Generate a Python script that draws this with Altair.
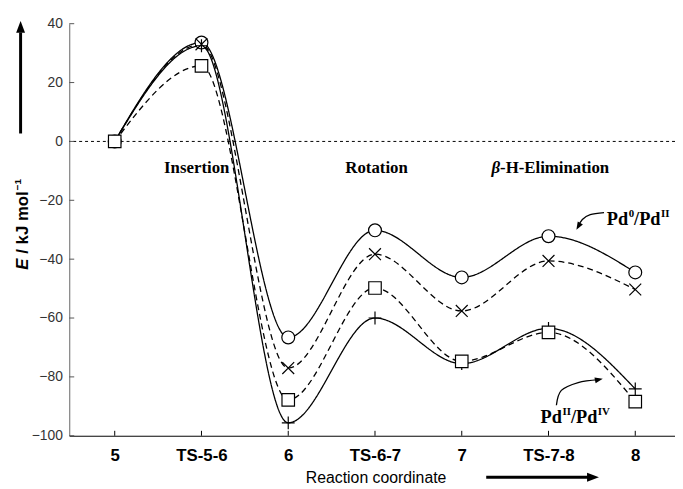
import json
import altair as alt
import pandas as pd

# ---------------- data ----------------
stages = ["5", "TS-5-6", "6", "TS-6-7", "7", "TS-7-8", "8"]
positions = list(range(len(stages)))
series_names = ["circle", "cross", "plus", "square"]
circle_vals = [0, 33.6, -66.6, -30.2, -46.2, -32.2, -44.5]
cross_vals = [0, 33.0, -77.0, -38.3, -57.6, -40.6, -50.3]
plus_vals = [0, 32.5, -95.6, -60.0, -75.5, -63.5, -84.1]
square_vals = [0, 25.7, -87.8, -49.8, -74.7, -64.9, -88.4]
y_ticks = [40, 20, 0, -20, -40, -60, -80, -100]

# annotation texts (data coordinates)
phase_text = ["Insertion", "Rotation"]
phase_x = [0.945, 3.018]
phase_y = [-9.0, -9.0]
beta_x, beta_y = 4.442, -9.0

pd0_x, pd0_y = 5.672, -28.5      # Pd0/PdII label anchor (left, baseline)
pd2_x, pd2_y = 4.909, -95.7      # PdII/PdIV label anchor

arrow1_x = [5.640, 5.481, 5.390, 5.344]
arrow1_y = [-24.17, -24.84, -26.52, -28.87]
arrow2_x = [5.091, 5.148, 5.342, 5.581]
arrow2_y = [-89.63, -84.59, -81.91, -80.90]

# ---------------- layout ----------------
X_DOMAIN = [-0.524, 6.458]
Y_DOMAIN = [-100, 40]
W, H = 613, 417
PX_X = W / (X_DOMAIN[1] - X_DOMAIN[0])
PX_Y = H / (Y_DOMAIN[1] - Y_DOMAIN[0])

rows = []
for name, vals in zip(series_names, [circle_vals, cross_vals, plus_vals, square_vals]):
    for i, v in zip(positions, vals):
        rows.append({"series": name, "x": i, "y": v})
df = pd.DataFrame(rows)

label_expr = json.dumps(stages) + "[datum.value]"

xs = alt.Scale(domain=X_DOMAIN, nice=False, zero=False)
ys = alt.Scale(domain=Y_DOMAIN, nice=False, zero=False)

xaxis = alt.Axis(values=positions, labelExpr=label_expr, title="Reaction coordinate",
                 titleFont="Liberation Sans", titleFontSize=16, titleFontWeight="normal",
                 titleColor="black", titleBaseline="middle", titleX=310, titleY=42,
                 labelFont="Liberation Sans", labelFontSize=17, labelFontWeight="bold",
                 labelColor="black", labelPadding=12, ticks=False, tickSize=0,
                 domainColor="black", domainWidth=1, grid=False, labelFlush=False,
                 labelOverlap=False)
yaxis = alt.Axis(values=y_ticks, title=None, labelFont="Liberation Sans", labelFontSize=14,
                 labelColor="#333333", labelPadding=7, ticks=False, tickSize=0,
                 domainColor="#666666", domainWidth=1, grid=False, labelFlush=False)


def X(f="x"):
    return alt.X(f"{f}:Q", scale=xs, axis=xaxis)


def Y(f="y"):
    return alt.Y(f"{f}:Q", scale=ys, axis=yaxis)


layers = []

# zero dotted line
layers.append(alt.Chart(pd.DataFrame({"y": [0]})).mark_rule(
    color="black", strokeWidth=1, strokeDash=[3, 3]).encode(y=Y()))

# inward ticks
xt = pd.DataFrame({"x": positions, "y": [Y_DOMAIN[0]] * len(positions),
                   "y2": [Y_DOMAIN[0] + 5 / PX_Y] * len(positions)})
layers.append(alt.Chart(xt).mark_rule(color="black", strokeWidth=1).encode(
    x=X(), y=Y(), y2="y2:Q"))
yt = pd.DataFrame({"y": y_ticks, "x": [X_DOMAIN[0]] * len(y_ticks),
                   "x2": [X_DOMAIN[0] + 5 / PX_X] * len(y_ticks)})
layers.append(alt.Chart(yt).mark_rule(color="#555555", strokeWidth=1).encode(
    x=X(), x2="x2:Q", y=Y()))

# curves
layers.append(alt.Chart(df).mark_line(interpolate="monotone", color="black", strokeWidth=1.3).encode(
    x=X(), y=Y(), detail="series:N",
    strokeDash=alt.StrokeDash("series:N", scale=alt.Scale(domain=series_names,
                              range=[[1, 0], [6, 4], [1, 0], [6, 4]]), legend=None)))

# markers
marker_specs = [
    ("circle", dict(shape="circle", size=169, fill="white", fillOpacity=1)),
    ("cross", dict(shape="M-1,-1L1,1M-1,1L1,-1", size=144, filled=False)),
    ("plus", dict(shape="M-1,0L1,0M0,-1L0,1", size=169, filled=False)),
    ("square", dict(shape="square", size=160, fill="white", fillOpacity=1)),
]
for name, kw in marker_specs:
    layers.append(alt.Chart(df).transform_filter(alt.datum.series == name).mark_point(
        stroke="black", strokeWidth=1.2, opacity=1, **kw).encode(x=X(), y=Y()))

# phase labels
ph = pd.DataFrame({"x": phase_x, "y": phase_y, "t": phase_text})
layers.append(alt.Chart(ph).mark_text(font="Liberation Serif", fontSize=17, fontWeight="bold",
                                      color="black", align="center", baseline="middle").encode(
    x=X(), y=Y(), text="t:N"))
bdf = pd.DataFrame({"x": [beta_x], "y": [beta_y]})
layers.append(alt.Chart(bdf).mark_text(text="β", font="Liberation Serif", fontSize=17,
                                       fontWeight="bold", fontStyle="italic", color="black",
                                       align="right", baseline="middle").encode(x=X(), y=Y()))
layers.append(alt.Chart(bdf).mark_text(text="-H-Elimination", font="Liberation Serif", fontSize=17,
                                       fontWeight="bold", color="black",
                                       align="left", baseline="middle").encode(x=X(), y=Y()))


# Pd labels
def pd_label(x, y, sup1, sup2, fs=18.5, fss=11):
    d = pd.DataFrame({"x": [x], "y": [y]})
    big = dict(font="Liberation Serif", fontSize=fs, fontWeight="bold", color="black",
               align="left", baseline="alphabetic")
    small = dict(font="Liberation Serif", fontSize=fss, fontWeight="bold", color="black",
                 align="left", baseline="alphabetic")
    w_pd = 1.167 * fs
    w_slash_pd = 1.445 * fs
    w_s1 = (0.5 * fss) if sup1 == "0" else (0.389 * fss * len(sup1))
    return [
        alt.Chart(d).mark_text(text="Pd", dx=0, **big).encode(x=X(), y=Y()),
        alt.Chart(d).mark_text(text=sup1, dx=w_pd + 0.5, dy=-8, **small).encode(x=X(), y=Y()),
        alt.Chart(d).mark_text(text="/Pd", dx=w_pd + w_s1 + 0.5, **big).encode(x=X(), y=Y()),
        alt.Chart(d).mark_text(text=sup2, dx=w_pd + w_s1 + w_slash_pd + 1, dy=-8, **small).encode(x=X(), y=Y()),
    ]


layers += pd_label(pd0_x, pd0_y, "0", "II")
layers += pd_label(pd2_x, pd2_y, "II", "IV")

# curved arrows
HEAD = "M0,-1L0.75,1L-0.75,1Z"
a1 = pd.DataFrame({"x": arrow1_x, "y": arrow1_y, "i": range(len(arrow1_x))})
layers.append(alt.Chart(a1).mark_line(interpolate="cardinal", color="black", strokeWidth=1.3).encode(
    x=X(), y=Y(), order="i:Q"))
layers.append(alt.Chart(pd.DataFrame({"x": [arrow1_x[-1]], "y": [arrow1_y[-1]]})).mark_point(
    shape=HEAD, size=64, angle=210, filled=True, color="black", opacity=1).encode(x=X(), y=Y()))
a2 = pd.DataFrame({"x": arrow2_x, "y": arrow2_y, "i": range(len(arrow2_x))})
layers.append(alt.Chart(a2).mark_line(interpolate="cardinal", color="black", strokeWidth=1.3).encode(
    x=X(), y=Y(), order="i:Q"))
layers.append(alt.Chart(pd.DataFrame({"x": [arrow2_x[-1]], "y": [arrow2_y[-1]]})).mark_point(
    shape=HEAD, size=64, angle=79, filled=True, color="black", opacity=1).encode(x=X(), y=Y()))

# y-axis arrow
ya_x = -1.085
layers.append(alt.Chart(pd.DataFrame({"x": [ya_x], "y": [2.7], "y2": [37.0]})).mark_rule(
    color="black", strokeWidth=3).encode(x=X(), y=Y(), y2="y2:Q"))
layers.append(alt.Chart(pd.DataFrame({"x": [ya_x], "y": [38.9]})).mark_point(
    shape=HEAD, size=144, angle=0, filled=True, color="black", opacity=1).encode(x=X(), y=Y()))

# x-axis arrow
xa_y = -114.1
layers.append(alt.Chart(pd.DataFrame({"x": [4.282], "x2": [5.47], "y": [xa_y]})).mark_rule(
    color="black", strokeWidth=3).encode(x=X(), x2="x2:Q", y=Y()))
layers.append(alt.Chart(pd.DataFrame({"x": [5.513], "y": [xa_y]})).mark_point(
    shape=HEAD, size=144, angle=90, filled=True, color="black", opacity=1).encode(x=X(), y=Y()))

# y title: E / kJ mol^-1 (rotated)
yt_df = pd.DataFrame({"x": [-1.002], "y": [-43.6]})
tb = dict(font="Liberation Sans", fontSize=17, fontWeight="bold", color="black",
          align="left", baseline="alphabetic", angle=270)
layers.append(alt.Chart(yt_df).mark_text(text="E", fontStyle="italic", **tb).encode(x=X(), y=Y()))
layers.append(alt.Chart(yt_df).mark_text(text="/ kJ mol", dx=16.2, **tb).encode(x=X(), y=Y()))
tb_small = dict(tb)
tb_small["fontSize"] = 10
layers.append(alt.Chart(yt_df).mark_text(text="−1", dx=80.5, dy=-7, **tb_small).encode(x=X(), y=Y()))

chart = alt.layer(*layers).properties(
    width=W, height=H,
    autosize=alt.AutoSizeParams(type="none"),
    padding={"left": 62, "top": 13, "right": 0, "bottom": 51},
).configure_view(strokeWidth=0)

chart.save("out.html", embed_options={"renderer": "svg", "actions": False})
